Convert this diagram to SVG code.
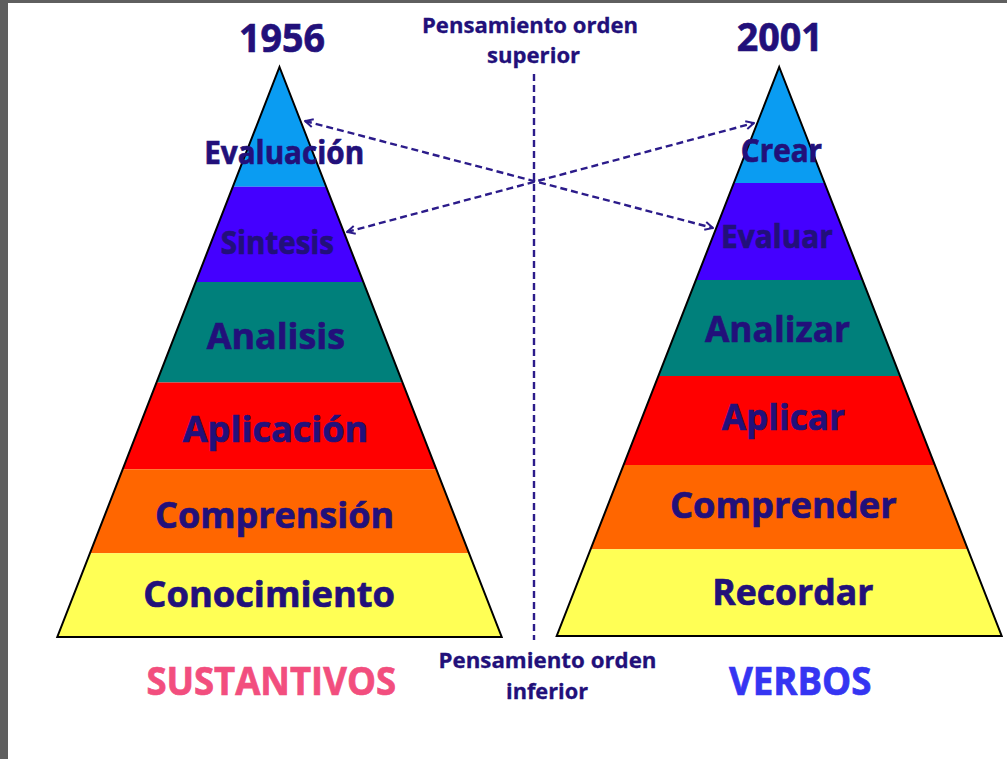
<svg xmlns="http://www.w3.org/2000/svg" width="1007" height="759" viewBox="0 0 1007 759">
<style>
.t{font-family:"Open Sans","Liberation Sans",sans-serif;font-weight:bold;fill:#22107A;stroke:#22107A;stroke-width:0.7;text-anchor:middle}
.big{font-size:36.5px}
.mid{font-size:32px}
.sm{font-size:21px;stroke-width:0.3}
.yr{font-size:39.5px}
.cat{font-size:38.5px}
.outline{fill:none;stroke:#000;stroke-width:2;stroke-linejoin:miter}
.dash{fill:none;stroke:#2B1B8A;stroke-width:2.4;stroke-dasharray:7 4}
</style>
<defs>
<marker id="chev" viewBox="0 0 10 10" refX="9" refY="5" markerWidth="10" markerHeight="10" markerUnits="userSpaceOnUse" orient="auto-start-reverse">
<path d="M1,1 L9,5 L1,9" fill="none" stroke="#2B1B8A" stroke-width="2"/>
</marker>
</defs>
<rect x="0" y="0" width="1007" height="759" fill="#ffffff"/>
<rect x="0" y="0" width="1007" height="3" fill="#5f5f5f"/>
<rect x="0" y="0" width="8" height="759" fill="#5f5f5f"/>

<g id="pyramid-1956">
<polygon points="279.5,67 326.16,186.7 232.84,186.7" fill="#0A9CF2"/>
<polygon points="232.84,186.7 326.16,186.7 363.31,282 195.69,282" fill="#4400FF"/>
<polygon points="195.69,282 363.31,282 402.49,382.5 156.51,382.5" fill="#00807B"/>
<polygon points="156.51,382.5 402.49,382.5 436.33,469.3 122.67,469.3" fill="#FF0000"/>
<polygon points="122.67,469.3 436.33,469.3 469.07,553.3 89.93,553.3" fill="#FF6600"/>
<polygon points="89.93,553.3 469.07,553.3 501.7,637 57.3,637" fill="#FFFF55"/>
<polygon class="outline" points="279.5,67 501.7,637 57.3,637"/>
<text id="lbl-evaluacion" class="t mid" x="284.2" y="164.3" textLength="160" lengthAdjust="spacingAndGlyphs">Evaluación</text>
<text id="lbl-sintesis" class="t mid" x="277.4" y="253.5" textLength="113.3" lengthAdjust="spacingAndGlyphs">Sintesis</text>
<text id="lbl-analisis" class="t big" x="275.9" y="349" textLength="138.3" lengthAdjust="spacingAndGlyphs">Analisis</text>
<text id="lbl-aplicacion" class="t big" x="275.5" y="441.7" textLength="185.6" lengthAdjust="spacingAndGlyphs">Aplicación</text>
<text id="lbl-comprension" class="t big" x="274.5" y="528.3" textLength="239" lengthAdjust="spacingAndGlyphs">Comprensión</text>
<text id="lbl-conocimiento" class="t big" x="269.2" y="606.7" textLength="251.7" lengthAdjust="spacingAndGlyphs">Conocimiento</text>
</g>

<g id="pyramid-2001">
<polygon points="779.2,67 824.56,183 733.84,183" fill="#0A9CF2"/>
<polygon points="733.84,183 824.56,183 862.49,280 695.91,280" fill="#4400FF"/>
<polygon points="695.91,280 862.49,280 900.03,376 658.37,376" fill="#00807B"/>
<polygon points="658.37,376 900.03,376 934.83,465 623.57,465" fill="#FF0000"/>
<polygon points="623.57,465 934.83,465 967.8,549.3 590.6,549.3" fill="#FF6600"/>
<polygon points="590.6,549.3 967.8,549.3 1001.7,636 556.7,636" fill="#FFFF55"/>
<polygon class="outline" points="779.2,67 1001.7,636 556.7,636"/>
<text id="lbl-crear" class="t mid" x="781.4" y="161.7" textLength="81.3" lengthAdjust="spacingAndGlyphs">Crear</text>
<text id="lbl-evaluar" class="t mid" x="776.9" y="248" textLength="111.8" lengthAdjust="spacingAndGlyphs">Evaluar</text>
<text id="lbl-analizar" class="t big" x="777.5" y="341.7" textLength="145" lengthAdjust="spacingAndGlyphs">Analizar</text>
<text id="lbl-aplicar" class="t big" x="783.3" y="430" textLength="123.3" lengthAdjust="spacingAndGlyphs">Aplicar</text>
<text id="lbl-comprender" class="t big" x="783.3" y="518.3" textLength="226.7" lengthAdjust="spacingAndGlyphs">Comprender</text>
<text id="lbl-recordar" class="t big" x="792.8" y="605" textLength="161" lengthAdjust="spacingAndGlyphs">Recordar</text>
</g>

<g id="connectors">
<line class="dash" x1="534" y1="74" x2="534" y2="640"/>
<line class="dash" x1="305" y1="121" x2="713" y2="228" marker-start="url(#chev)" marker-end="url(#chev)"/>
<line class="dash" x1="347" y1="232" x2="754" y2="123" marker-start="url(#chev)" marker-end="url(#chev)"/>
</g>

<g id="titles">
<text id="year-1956" class="t yr" x="282" y="51.5" textLength="86" lengthAdjust="spacingAndGlyphs">1956</text>
<text id="year-2001" class="t yr" x="779.8" y="50.5" textLength="86" lengthAdjust="spacingAndGlyphs">2001</text>
<g id="label-superior">
<text class="t sm" x="530" y="33" textLength="216" lengthAdjust="spacingAndGlyphs">Pensamiento orden</text>
<text class="t sm" x="533.6" y="63" textLength="93" lengthAdjust="spacingAndGlyphs">superior</text>
</g>
<g id="label-inferior">
<text class="t sm" x="547.5" y="668" textLength="218" lengthAdjust="spacingAndGlyphs">Pensamiento orden</text>
<text class="t sm" x="547" y="699" textLength="82" lengthAdjust="spacingAndGlyphs">inferior</text>
</g>
<text id="sustantivos" class="t cat" x="271.2" y="695" textLength="249.6" lengthAdjust="spacingAndGlyphs" style="fill:#F24E7E;stroke:#F24E7E">SUSTANTIVOS</text>
<text id="verbos" class="t cat" x="800.2" y="695" textLength="142.5" lengthAdjust="spacingAndGlyphs" style="fill:#3535F2;stroke:#3535F2">VERBOS</text>
</g>
</svg>
